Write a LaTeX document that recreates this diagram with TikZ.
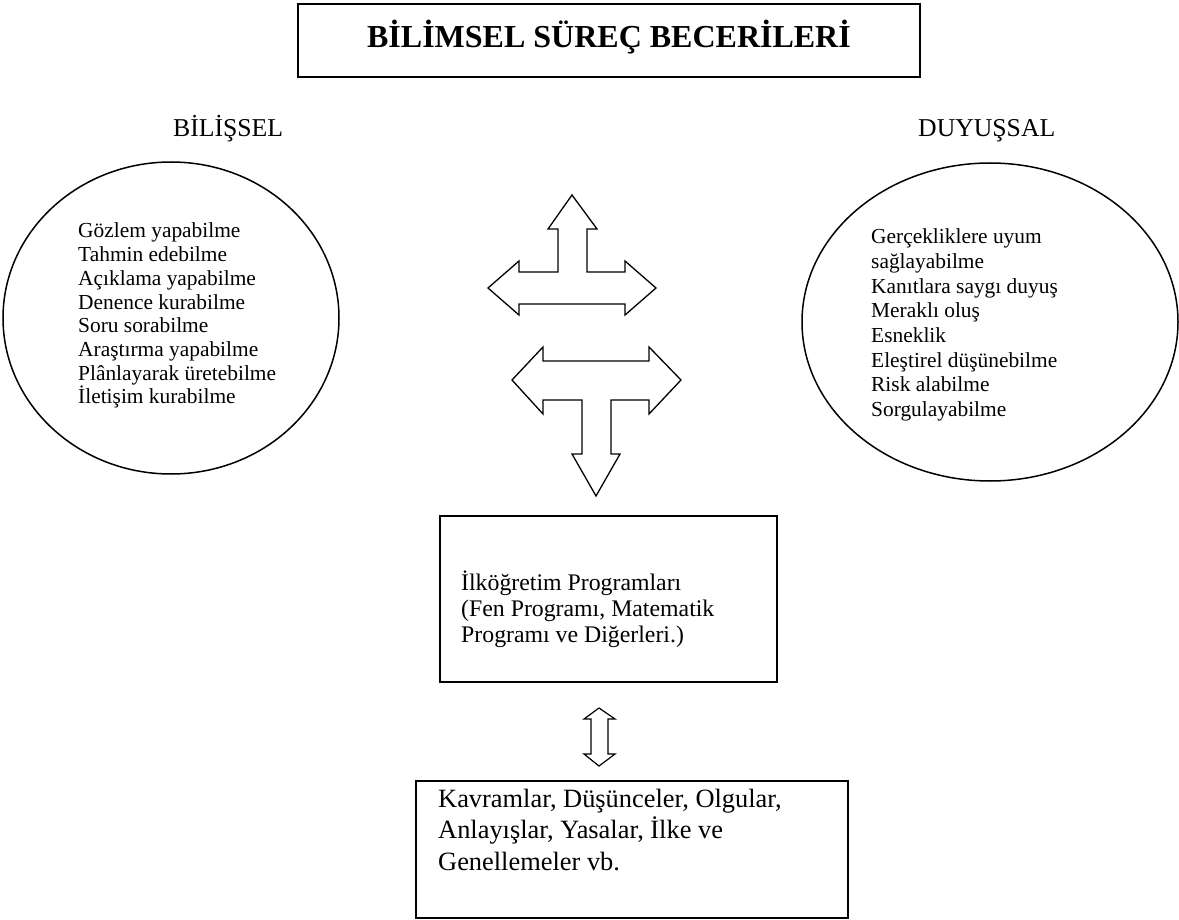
\documentclass[tikz,border=0pt]{standalone}
\usepackage{fontspec}
\setmainfont{Liberation Serif}
\usetikzlibrary{shapes.geometric}
\begin{document}
\begin{tikzpicture}[x=1pt,y=-1pt,
  frame/.style={draw, line width=1.6pt, inner sep=0pt},
  oval/.style={draw, ellipse, line width=1.5pt, inner sep=0pt},
  blockarrow/.style={draw, line width=1.3pt, line join=miter, fill=white},
  smalltxt/.style={font=\fontsize{21.4}{24}\selectfont, anchor=base west, inner sep=0pt},
  midtxt/.style={font=\fontsize{23.8}{27}\selectfont, anchor=base west, inner sep=0pt},
  bigtxt/.style={font=\fontsize{26.4}{31}\selectfont, anchor=base west, inner sep=0pt},
  labeltxt/.style={font=\fontsize{25.7}{30}\selectfont, anchor=base west, inner sep=0pt}]
\useasboundingbox (0,0) rectangle (1179,920);
\fill[white] (0,0) rectangle (1179,920);

% title
\node[frame, minimum width=622pt, minimum height=73pt] (titlebox) at (609,40.5) {};
\node[anchor=base, inner sep=0pt, font=\bfseries\fontsize{32}{38}\selectfont] (title) at (609,48) {BİLİMSEL SÜREÇ BECERİLERİ};

% labels
\node[labeltxt] (bil) at (173,137) {BİLİŞSEL};
\node[labeltxt] (duy) at (918,137) {DUYUŞSAL};

% ellipses
\node[oval, minimum width=336pt, minimum height=312pt] (lell) at (171,318) {};
\node[oval, minimum width=376pt, minimum height=318pt] (rell) at (990,322) {};

\foreach \t [count=\i from 0] in {Gözlem yapabilme, Tahmin edebilme, Açıklama yapabilme, Denence kurabilme, Soru sorabilme, Araştırma yapabilme, Plânlayarak üretebilme, İletişim kurabilme}
  \node[smalltxt] (L\i) at (78,238+23.7*\i) {\t};

\foreach \t [count=\i from 0] in {Gerçekliklere uyum, sağlayabilme, Kanıtlara saygı duyuş, Meraklı oluş, Esneklik, Eleştirel düşünebilme, Risk alabilme, Sorgulayabilme}
  \node[smalltxt] (R\i) at (871,244+24.6*\i) {\t};

% upper block arrow (up, left, right)
\draw[blockarrow] (572,195) -- (597,229) -- (587,229) -- (587,272) -- (625,272) -- (625,261)
  -- (656,288) -- (625,315) -- (625,304) -- (519,304) -- (519,315) -- (488,288)
  -- (519,261) -- (519,272) -- (558,272) -- (558,229) -- (548,229) -- cycle;

% lower block arrow (left, right, down)
\draw[blockarrow] (512,380) -- (543,347) -- (543,361) -- (649,361) -- (649,347) -- (681,380)
  -- (649,414) -- (649,400) -- (611,400) -- (611,454) -- (620,454) -- (596,496)
  -- (572,454) -- (582,454) -- (582,400) -- (543,400) -- (543,414) -- cycle;

% middle box
\node[frame, minimum width=337pt, minimum height=166pt] (mid) at (608.5,599) {};
\foreach \t [count=\i from 0] in {{İlköğretim Programları}, {(Fen Programı, Matematik}, {Programı ve Diğerleri.)}}
  \node[midtxt] (M\i) at (461,590+26*\i) {\t};

% small double arrow
\draw[blockarrow, line width=1.2pt] (599,708) -- (615,719) -- (608,719) -- (608,754) -- (615,754)
  -- (599,766) -- (584,754) -- (591,754) -- (591,719) -- (584,719) -- cycle;

% bottom box
\node[frame, minimum width=432pt, minimum height=137pt] (bot) at (632,849.5) {};
\foreach \t [count=\i from 0] in {{Kavramlar, Düşünceler, Olgular,}, {Anlayışlar, Yasalar, İlke ve}, {Genellemeler vb.}}
  \node[bigtxt] (B\i) at (438,807+31.5*\i) {\t};
\end{tikzpicture}
\end{document}
